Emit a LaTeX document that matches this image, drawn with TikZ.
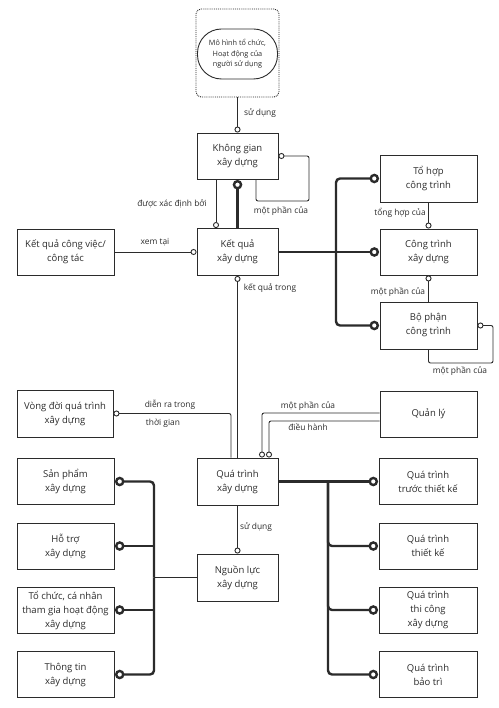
\documentclass[tikz,border=0pt]{standalone}
\usepackage{fontspec}
\setmainfont{Open Sans}
\usetikzlibrary{arrows.meta,calc}
\definecolor{ink}{HTML}{2B2B2B}
\begin{document}
\begin{tikzpicture}[x=1pt,y=-1pt,
  box/.style={draw=ink, line width=0.9pt, align=center, minimum width=97pt, minimum height=46pt, inner sep=1pt, font=\fontsize{9.5}{14}\selectfont, text=ink},
  lbl/.style={font=\fontsize{8.4}{10}\selectfont, text=ink, inner sep=0pt},
  thinc/.style={draw=ink, line width=0.9pt},
  thickc/.style={draw=ink, line width=2.4pt},
  tipthin/.style={arrows={-{Circle[open,length=6pt,width=6pt]}}},
  tipthick/.style={arrows={-{Circle[open,length=9.5pt,width=9.5pt,sep=0.5pt]}}},
  tipthickstart/.style={arrows={{Circle[open,length=9.5pt,width=9.5pt,sep=0.5pt]}-}},
]
\useasboundingbox (0,0) rectangle (498,708);
% nodes
\node[draw=ink, densely dotted, line width=0.9pt, rounded corners=5pt, minimum width=83pt, minimum height=88pt] (top) at (237.5,53) {};
\node[draw=ink, line width=0.9pt, rounded corners=24pt, minimum width=80pt, minimum height=50pt, align=center, font=\fontsize{7.3}{10.5}\selectfont, text=ink, inner sep=1pt] (model) at (237.5,54) {Mô hình tổ chức,\\Hoạt động của\\người sử dụng};
\node[box, minimum width=81pt] (kg) at (237.5,156) {Không gian\\xây dựng};
\node[box, minimum width=81pt, minimum height=47pt] (kq) at (237.5,252) {Kết quả\\xây dựng};
\node[box] (kqcv) at (65.5,252) {Kết quả công việc/\\công tác};
\node[box, minimum height=47pt] (tohop) at (428.5,178.5) {Tổ hợp\\công trình};
\node[box] (congtrinh) at (428.5,252) {Công trình\\xây dựng};
\node[box, minimum height=47pt] (bophan) at (428.5,325.5) {Bộ phận\\công trình};
\node[box, minimum width=96pt, minimum height=47pt] (vongdoi) at (65,413.5) {Vòng đời quá trình\\xây dựng};
\node[box] (quanly) at (428.5,414) {Quản lý};
\node[box, minimum width=81pt, minimum height=47pt] (quatrinh) at (237.5,481.5) {Quá trình\\xây dựng};
\node[box, minimum width=81pt, minimum height=47pt] (nguonluc) at (237.5,577.5) {Nguồn lực\\xây dựng};
\node[box, minimum width=98pt] (truoc) at (428,481.5) {Quá trình\\trước thiết kế};
\node[box, minimum width=98pt] (thietke) at (428,546) {Quá trình\\thiết kế};
\node[box, minimum width=98pt] (thicong) at (428,610) {Quá trình\\thi công\\xây dựng};
\node[box, minimum width=98pt] (baotri) at (428,674.5) {Quá trình\\bảo trì};
\node[box] (sanpham) at (65.5,481.5) {Sản phẩm\\xây dựng};
\node[box] (hotro) at (65.5,546) {Hỗ trợ\\xây dựng};
\node[box] (tochuc) at (65.5,610) {Tổ chức, cá nhân\\tham gia hoạt động\\xây dựng};
\node[box] (thongtin) at (65.5,674.5) {Thông tin\\xây dựng};
% helper coordinates
\coordinate (lk) at (309,201);
\coordinate (lb) at (493,363);
\coordinate (jr) at (336,252);
\coordinate (jq) at (328,481.5);
\coordinate (jl) at (154,577.5);
% thin connectors
\draw[thinc, tipthin] (top.south) -- (kg.north);
\draw[thinc, tipthin, rounded corners=2pt] ([xshift=18.5pt]kg.south) |- (lk) |- (kg.east);
\draw[thinc, tipthin] ([xshift=-21.5pt]kg.south) -- ([xshift=-21.5pt]kq.north);
\draw[thinc, tipthin] (kqcv.east) -- (kq.west);
\draw[thinc, tipthin] (quatrinh.north) -- (kq.south);
\draw[thinc, tipthin] (tohop.south) -- (congtrinh.north);
\draw[thinc, tipthin] (bophan.north) -- (congtrinh.south);
\draw[thinc, tipthin, rounded corners=2pt] (bophan.south) |- (lb) |- (bophan.east);
\draw[thinc, tipthin, rounded corners=2pt] ([xshift=-6.5pt]quatrinh.north) |- (vongdoi.east);
\draw[thinc, tipthin, rounded corners=2pt] ([yshift=1pt]quanly.west) -| ([xshift=24.5pt]quatrinh.north);
\draw[thinc, tipthin, rounded corners=2pt] ([yshift=-7pt]quanly.west) -| ([xshift=31.5pt]quatrinh.north);
\draw[thinc, tipthin] (quatrinh.south) -- (nguonluc.north);
\draw[thinc] (jl) -- (nguonluc.west);
% thick connectors
\draw[thickc, tipthick] (kq.north) -- (kg.south);
\draw[thickc] (kq.east) -- (jr);
\draw[thickc, tipthick, rounded corners=4pt] (jr) |- (tohop.west);
\draw[thickc, tipthick] (jr) -- (congtrinh.west);
\draw[thickc, tipthick, rounded corners=4pt] (jr) |- (bophan.west);
\draw[thickc, tipthick] (quatrinh.east) -- (truoc.west);
\draw[thickc, tipthick, rounded corners=4pt] (jq) |- (thietke.west);
\draw[thickc, tipthick, rounded corners=4pt] (jq) |- (thicong.west);
\draw[thickc, tipthick, rounded corners=4pt] (jq) |- (baotri.west);
\draw[thickc, tipthickstart, rounded corners=4pt] (sanpham.east) -| (jl);
\draw[thickc, tipthickstart] (hotro.east) -- (hotro.east -| jl);
\draw[thickc, tipthickstart] (tochuc.east) -- (tochuc.east -| jl);
\draw[thickc, tipthickstart, rounded corners=4pt] (thongtin.east) -| (jl);
% labels
\node[lbl] (l1) at (260,113) {sử dụng};
\node[lbl] (l2) at (281,211) {một phần của};
\node[lbl] (l3) at (172,204) {được xác định bởi};
\node[lbl] (l4) at (155,242) {xem tại};
\node[lbl] (l5) at (270,288) {kết quả trong};
\node[lbl] (l6) at (400,213) {tổng hợp của};
\node[lbl] (l7) at (398,292) {một phần của};
\node[lbl] (l8) at (460,371) {một phần của};
\node[lbl] (l9) at (170,405) {diễn ra trong};
\node[lbl] (l10) at (163,423) {thời gian};
\node[lbl] (l11) at (308,406) {một phần của};
\node[lbl] (l12) at (308,427) {điều hành};
\node[lbl] (l13) at (256,527) {sử dụng};
\end{tikzpicture}
\end{document}
